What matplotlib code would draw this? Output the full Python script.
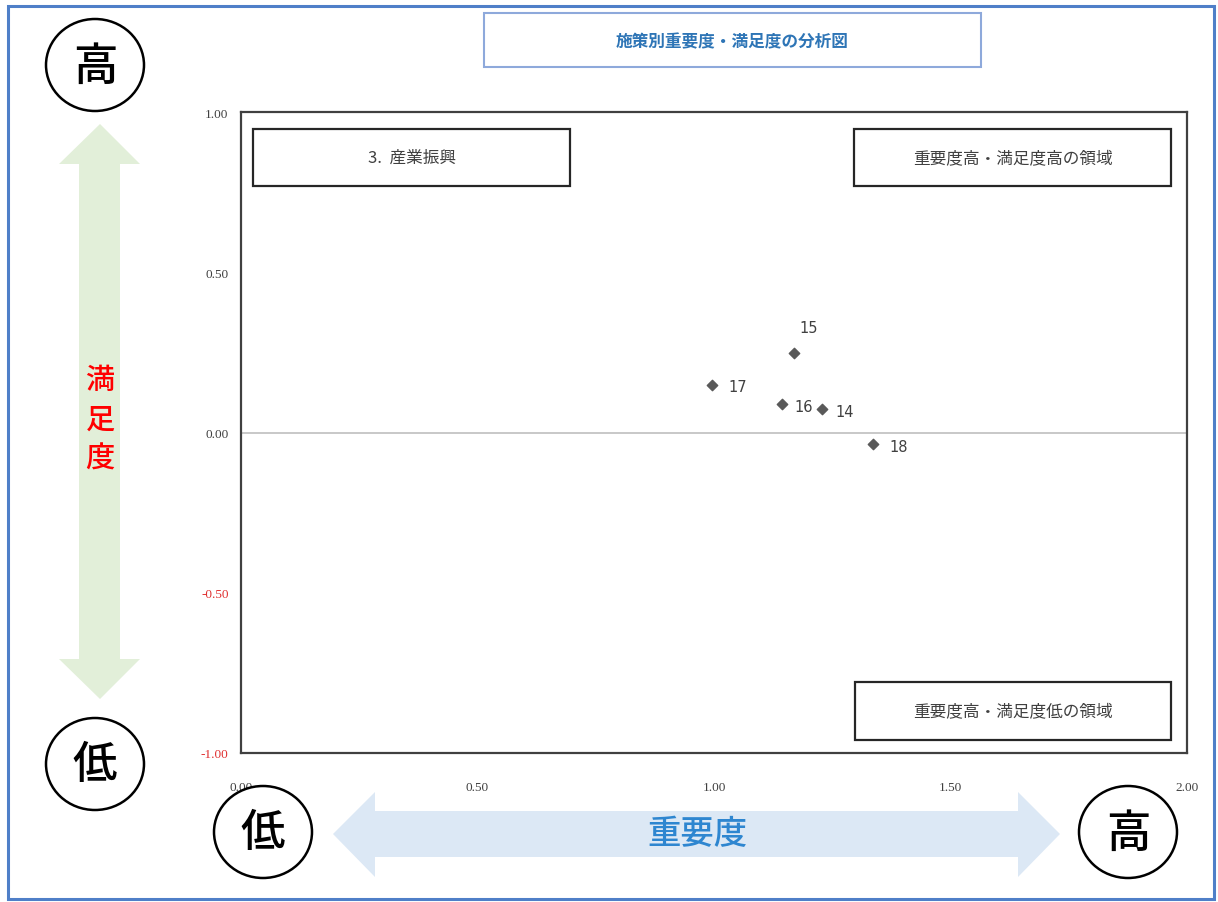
import matplotlib
matplotlib.use("Agg")
import matplotlib.pyplot as plt
from matplotlib.patches import Rectangle, Ellipse, Polygon

plt.rcParams['font.family'] = ['Noto Sans CJK JP', 'DejaVu Sans']

# Policy items: importance (x) vs satisfaction (y)
item_labels = ["14", "15", "16", "17", "18"]
importance = [1.228, 1.169, 1.144, 0.996, 1.337]
satisfaction = [0.073, 0.247, 0.088, 0.148, -0.036]

x_ticks = [0.0, 0.5, 1.0, 1.5, 2.0]
y_ticks = [-1.0, -0.5, 0.0, 0.5, 1.0]

title_text = "施策別重要度・満足度の分析図"
section_text = "3.  産業振興"
upper_region_text = "重要度高・満足度高の領域"
lower_region_text = "重要度高・満足度低の領域"

W, H = 1218, 903
fig = plt.figure(figsize=(W / 100, H / 100), dpi=100)
fig.patch.set_facecolor("white")

def px_rect(x0, y0, x1, y1):
    return [x0 / W, 1 - y1 / H, (x1 - x0) / W, (y1 - y0) / H]

# main scatter axes
ax = fig.add_axes(px_rect(241, 113, 1187, 754))
ax.set_xlim(0, 2)
ax.set_ylim(-1, 1)
for s in ax.spines.values():
    s.set_color("#404040")
    s.set_linewidth(1.6)
ax.axhline(0, color="#bfbfbf", lw=1.2, zorder=1)
ax.scatter(importance, satisfaction, marker="D", s=28, color="#595959", zorder=3)

label_offsets = {"14": (14, -2), "15": (6, 26), "16": (12, -2), "17": (16, -1), "18": (16, -2)}
for lab, xv, yv in zip(item_labels, importance, satisfaction):
    dx, dy = label_offsets[lab]
    ax.annotate(lab, (xv, yv), xytext=(dx, dy), textcoords="offset pixels",
                ha="left", va="center", fontsize=10.5, color="#404040",
                family=["DejaVu Sans"])

ax.set_xticks(x_ticks)
ax.set_yticks(y_ticks)
ax.tick_params(length=0, labelsize=9.5)
ax.set_xticklabels([f"{v:.2f}" for v in x_ticks], color="#404040", family="Liberation Serif")
ax.set_yticklabels([f"{v:.2f}" for v in y_ticks], family="Liberation Serif")
for t, v in zip(ax.get_yticklabels(), y_ticks):
    t.set_color("#e03030" if v < 0 else "#404040")
ax.tick_params(axis="x", pad=20)
ax.tick_params(axis="y", pad=9)

# decoration layer in pixel coordinates
ov = fig.add_axes([0, 0, 1, 1], zorder=5)
ov.set_xlim(0, W)
ov.set_ylim(H, 0)
ov.axis("off")
ov.patch.set_alpha(0)

# outer frame
ov.add_patch(Rectangle((8, 7), 1206, 893, fill=False, ec="#4f7fc8", lw=2.2))

# title box
ov.add_patch(Rectangle((484, 14), 497, 54, fc="white", ec="#8ea9db", lw=1.5))
ov.text(732, 42, title_text, ha="center", va="center", fontsize=12,
        color="#2e75b6", fontweight="bold")

# text boxes inside the plot area
def label_box(x0, y0, x1, y1, text):
    ov.add_patch(Rectangle((x0, y0), x1 - x0, y1 - y0, fc="white", ec="#262626", lw=1.6))
    ov.text((x0 + x1) / 2, (y0 + y1) / 2, text, ha="center", va="center",
            fontsize=12, color="#404040")

label_box(253, 130, 570, 187, section_text)
label_box(854, 130, 1171, 187, upper_region_text)
label_box(855, 683, 1171, 741, lower_region_text)

# vertical double arrow (satisfaction)
green = "#e2efd9"
vx0, vx1, hx0, hx1 = 79, 120, 59, 140
ov.add_patch(Polygon([(100, 125), (hx1, 165), (vx1, 165), (vx1, 660), (hx1, 660),
                      (100, 700), (hx0, 660), (vx0, 660), (vx0, 165), (hx0, 165)],
                     closed=True, fc=green, ec="none"))
ov.text(100, 420, "満\n足\n度", ha="center", va="center", fontsize=21,
        color="#ff0000", linespacing=1.35, fontweight="medium")

# horizontal double arrow (importance)
blue = "#dce8f5"
ov.add_patch(Polygon([(333, 835), (375, 793), (375, 812), (1018, 812), (1018, 793),
                      (1060, 835), (1018, 878), (1018, 858), (375, 858), (375, 878)],
                     closed=True, fc=blue, ec="none"))
ov.text(697, 835, "重要度", ha="center", va="center", fontsize=24, color="#2e86d0",
        fontweight="medium")

# circled high / low markers
def circled(cx, cy, ch):
    ov.add_patch(Ellipse((cx, cy), 98, 92, fc="white", ec="black", lw=1.8))
    ov.text(cx, cy + 1, ch, ha="center", va="center", fontsize=32, color="black",
            fontweight="medium")

circled(95, 66, "高")
circled(95, 765, "低")
circled(263, 833, "低")
circled(1128, 833, "高")

fig.savefig("out.png", dpi=100)
